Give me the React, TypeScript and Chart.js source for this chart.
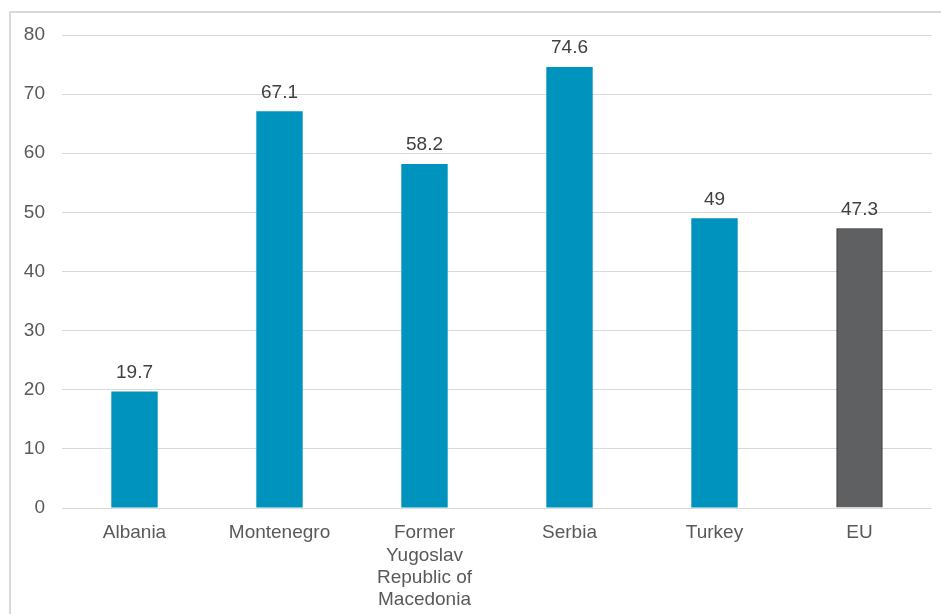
import React, { useEffect, useRef } from "react";
import { Chart, registerables } from "chart.js";

Chart.register(...registerables);

const categories: (string | string[])[] = [
  "Albania",
  "Montenegro",
  ["Former", "Yugoslav", "Republic of", "Macedonia"],
  "Serbia",
  "Turkey",
  "EU",
];
const values = [19.7, 67.1, 58.2, 74.6, 49, 47.3];
const barColors = ["#0093BD", "#0093BD", "#0093BD", "#0093BD", "#0093BD", "#5F6062"];
const yTicks = [0, 10, 20, 30, 40, 50, 60, 70, 80];

const FONT = "'Liberation Sans', Arial, sans-serif";

const labelPlugin = {
  id: "valueLabels",
  afterDatasetsDraw(chart: any) {
    const ctx = chart.ctx;
    const meta = chart.getDatasetMeta(0);
    ctx.save();
    ctx.font = `19px ${FONT}`;
    ctx.fillStyle = "#404040";
    ctx.textAlign = "center";
    ctx.textBaseline = "middle";
    meta.data.forEach((bar: any, i: number) => {
      const v = chart.data.datasets[0].data[i];
      ctx.fillText(String(v), bar.x, bar.y - 19);
    });
    ctx.restore();
  },
};

export default function App() {
  const ref = useRef<HTMLCanvasElement | null>(null);
  useEffect(() => {
    if (!ref.current) return;
    const chart = new Chart(ref.current, {
      type: "bar",
      data: {
        labels: categories,
        datasets: [
          {
            data: values,
            backgroundColor: barColors,
            borderColor: "#262626",
            borderWidth: [0, 0, 0, 0, 0, 1.5],
            barPercentage: 0.32,
            categoryPercentage: 1,
          },
        ],
      },
      options: {
        responsive: false,
        animation: false,
        devicePixelRatio: 1,
        layout: { padding: { left: 0, right: 9, top: 35, bottom: 0 } },
        plugins: { legend: { display: false }, tooltip: { enabled: false } },
        scales: {
          x: {
            grid: { display: false },
            border: { display: false },
            ticks: {
              color: "#595959",
              font: { family: FONT, size: 19, lineHeight: 1.17 },
              padding: 6,
              maxRotation: 0,
              autoSkip: false,
            },
            afterFit(scale: any) {
              scale.height = 106;
            },
          },
          y: {
            min: 0,
            max: 80,
            afterBuildTicks(scale: any) {
              scale.ticks = yTicks.map((v) => ({ value: v }));
            },
            grid: { color: "#D9D9D9", lineWidth: 1, drawTicks: false },
            border: { display: false },
            ticks: {
              color: "#595959",
              font: { family: FONT, size: 19 },
              padding: 17,
            },
            afterFit(scale: any) {
              scale.width = 62;
            },
          },
        },
      },
      plugins: [labelPlugin],
    });
    return () => chart.destroy();
  }, []);

  return (
    <div style={{ position: "fixed", left: 0, top: 0, width: 941, height: 614, background: "#fff", overflow: "hidden" }}>
      <div
        style={{
          position: "absolute",
          left: 9,
          top: 11,
          width: 960,
          height: 700,
          borderLeft: "2px solid #D9D9D9",
          borderTop: "2px solid #D9D9D9",
        }}
      />
      <canvas ref={ref} width={941} height={614} style={{ position: "absolute", left: 0, top: 0, width: 941, height: 614 }} />
    </div>
  );
}
